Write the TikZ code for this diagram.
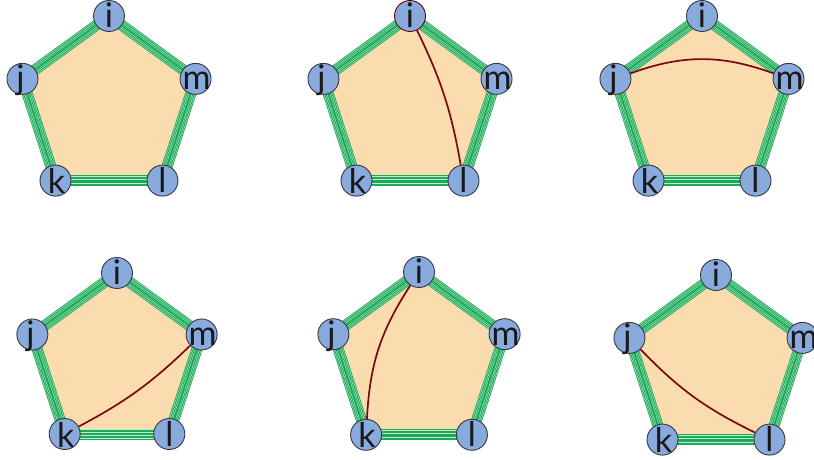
\documentclass[tikz,border=0pt]{standalone}
\usepackage{fontspec}
\setmainfont{Lato}
\definecolor{pfill}{RGB}{251,220,175}
\definecolor{nfill}{RGB}{137,170,220}
\definecolor{ndraw}{RGB}{55,55,65}
\definecolor{gdark}{RGB}{28,170,90}
\definecolor{glight}{RGB}{190,235,200}
\definecolor{chordc}{RGB}{120,10,15}
\tikzset{
  vert/.style={circle, draw=ndraw, fill=nfill, line width=0.9pt, minimum size=31pt, inner sep=0pt},
  lab/.style={font=\fontsize{34}{34}\selectfont, anchor=base, inner sep=0pt, text=black!90},
  chordline/.style={draw=chordc, line width=1.7pt},
  band/.style={line width=11pt, draw=gdark, line cap=butt,
    postaction={draw=glight, line width=9.2pt},
    postaction={draw=gdark, line width=8.2pt},
    postaction={draw=glight, line width=6.2pt},
    postaction={draw=gdark, line width=5.2pt},
    postaction={draw=glight, line width=3.2pt},
    postaction={draw=gdark, line width=2.2pt}},
}
\newcommand\pentpanel[4]{%
  \coordinate (#1ci) at ($(#2,#3)+(90:#4pt)$);
  \coordinate (#1cj) at ($(#2,#3)+(162:#4pt)$);
  \coordinate (#1ck) at ($(#2,#3)+(234:#4pt)$);
  \coordinate (#1cl) at ($(#2,#3)+(306:#4pt)$);
  \coordinate (#1cm) at ($(#2,#3)+(18:#4pt)$);
  \fill[pfill] (#1ci) -- (#1cj) -- (#1ck) -- (#1cl) -- (#1cm) -- cycle;
  \draw[band] (#1ci) -- (#1cj);
  \draw[band] (#1cj) -- (#1ck);
  \draw[band] (#1ck) -- (#1cl);
  \draw[band] (#1cl) -- (#1cm);
  \draw[band] (#1cm) -- (#1ci);
}
\newcommand\pentnodes[2][]{%
  \node[vert,#1] (#2i) at (#2ci) {};
  \node[vert] (#2j) at (#2cj) {};
  \node[vert] (#2k) at (#2ck) {};
  \node[vert] (#2l) at (#2cl) {};
  \node[vert] (#2m) at (#2cm) {};
}
\newcommand\pentlabels[1]{%
  \node[lab] (#1it) at ([yshift=-12pt]#1i.center) {i};
  \node[lab] (#1jt) at ([yshift=-11pt,xshift=-2pt]#1j.center) {j};
  \node[lab] (#1kt) at ([yshift=-13pt,xshift=1pt]#1k.center) {k};
  \node[lab] (#1lt) at ([yshift=-12pt]#1l.center) {l};
  \node[lab] (#1mt) at ([yshift=-11pt,xshift=1pt]#1m.center) {m};
}
\usetikzlibrary{calc}
\begin{document}
\begin{tikzpicture}[x=1pt,y=1pt]
  \useasboundingbox (0,0) rectangle (814,460);
  \pentpanel{a}{109}{353}{91}
  \pentpanel{b}{410}{353}{91}
  \pentpanel{c}{702}{353}{91}
  \pentpanel{d}{117}{98}{89}
  \pentpanel{e}{419}{98}{90}
  \pentpanel{f}{716}{94}{91}
  \pentnodes{a}
  \pentnodes[draw=chordc!80!black]{b}
  \pentnodes{c}
  \pentnodes{d}
  \pentnodes{e}
  \pentnodes{f}
  \draw[chordline] (bi) to[bend left=8] (bl);
  \draw[chordline] (cj) to[bend left=20] (cm);
  \draw[chordline] (dk) to[bend right=8] (dm);
  \draw[chordline] (ei) to[bend right=15] (ek);
  \draw[chordline] (fj) to[bend right=10] (fl);
  \pentlabels{a}
  \pentlabels{b}
  \pentlabels{c}
  \pentlabels{d}
  \pentlabels{e}
  \pentlabels{f}
\end{tikzpicture}
\end{document}
